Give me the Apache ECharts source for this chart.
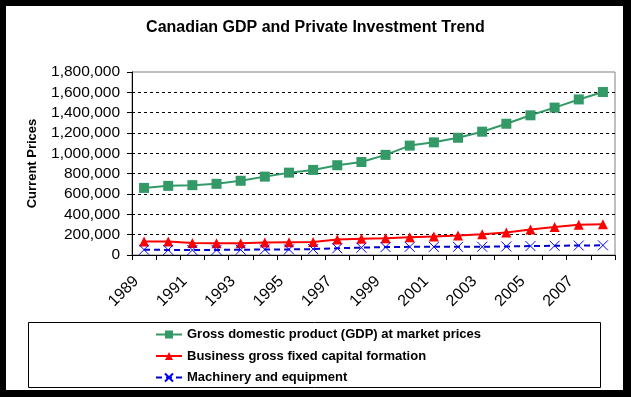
<!DOCTYPE html>
<html><head><meta charset="utf-8">
<script src="https://cdn.jsdelivr.net/npm/echarts@6/dist/echarts.min.js"></script>
<style>html,body{margin:0;padding:0;background:#000;}#c{width:631px;height:397px;}</style>
</head><body><div id="c"></div>
<script>
const years = ['1989','1990','1991','1992','1993','1994','1995','1996','1997','1998','1999','2000','2001','2002','2003','2004','2005','2006','2007','2008'];
const gdp = [660000,680000,687000,700000,730000,771000,810000,837000,883000,915000,985000,1076000,1108000,1153000,1213000,1291000,1374000,1450000,1530000,1603000];
const businessGFCF = [134000,133000,117000,115000,116000,124000,126000,127000,152000,160000,165000,174000,183000,192000,205000,222000,250000,276000,298000,302000];
const machinery = [52000,50000,49000,50000,52000,54000,55000,58000,66000,72000,78000,80000,80000,80000,81000,84000,88000,91000,93000,95000];
const seriesNames = ['Gross domestic product (GDP) at market prices','Business gross fixed capital formation','Machinery and equipment'];
const titleText = 'Canadian GDP and Private Investment Trend';
const yAxisName = 'Current Prices';
const yMin = 0, yMax = 1800000, yStep = 200000;

const FF = '"Liberation Sans", Arial, sans-serif';
const chart = echarts.init(document.getElementById('c'), null, {renderer: 'canvas'});
chart.setOption({
  animation: false,
  backgroundColor: '#000',
  graphic: {elements: [
    {type: 'rect', z: -10, shape: {x: 6, y: 6, width: 617, height: 384}, style: {fill: '#fff'}},
    {type: 'rect', z: 10, shape: {x: 28.5, y: 322.5, width: 572, height: 65}, style: {fill: 'none', stroke: '#000', lineWidth: 1}}
  ]},
  title: {
    text: titleText, left: 'center', top: 15,
    textStyle: {fontFamily: FF, fontSize: 16, fontWeight: 'bold', color: '#000'}
  },
  legend: {
    orient: 'vertical', left: 150, top: 323, itemGap: 8.5, itemWidth: 26, itemHeight: 10,
    textStyle: {fontFamily: FF, fontSize: 13, fontWeight: 'bold', color: '#000'},
    data: seriesNames
  },
  grid: {left: 132, right: 16, top: 72, bottom: 142, show: true, borderColor: '#808080', borderWidth: 1, backgroundColor: 'transparent'},
  xAxis: {
    type: 'category', data: years, boundaryGap: true,
    axisLine: {lineStyle: {color: '#000', width: 1}},
    axisTick: {show: true, interval: 0, length: 5, alignWithLabel: false, lineStyle: {color: '#000'}},
    axisLabel: {interval: 1, rotate: 45, margin: 16, padding: [0, 11, 0, 0], fontFamily: FF, fontSize: 16, color: '#000'},
    splitLine: {show: false}
  },
  yAxis: {
    type: 'value', min: yMin, max: yMax, interval: yStep,
    name: yAxisName, nameLocation: 'middle', nameRotate: 90, nameGap: 93,
    nameTextStyle: {fontFamily: FF, fontSize: 13, fontWeight: 'bold', color: '#000'},
    axisLine: {show: true, lineStyle: {color: '#000', width: 1}},
    axisTick: {show: true, length: 5, lineStyle: {color: '#000'}},
    axisLabel: {margin: 12, fontFamily: FF, fontSize: 15.5, color: '#000',
      formatter: v => v.toLocaleString('en-US')},
    splitLine: {show: true, showMaxLine: false, showMinLine: false, lineStyle: {color: '#000', type: [3, 3], width: 1}}
  },
  series: [
    {name: seriesNames[0], type: 'line', data: gdp, color: '#339966',
     lineStyle: {color: '#339966', width: 2}, symbol: 'rect', symbolSize: 10,
     itemStyle: {color: '#339966'}},
    {name: seriesNames[1], type: 'line', data: businessGFCF, color: '#ff0000',
     lineStyle: {color: '#ff0000', width: 2}, symbol: 'triangle', symbolSize: 10,
     itemStyle: {color: '#ff0000'}},
    {name: seriesNames[2], type: 'line', data: machinery, color: '#0000cc',
     lineStyle: {color: '#0000cc', width: 2, type: [6, 4]},
     symbol: 'path://M0,0L10,10M10,0L0,10', symbolSize: 10,
     itemStyle: {color: 'none', borderColor: '#0000ff', borderWidth: 1}}
  ]
});
</script>
</body></html>
